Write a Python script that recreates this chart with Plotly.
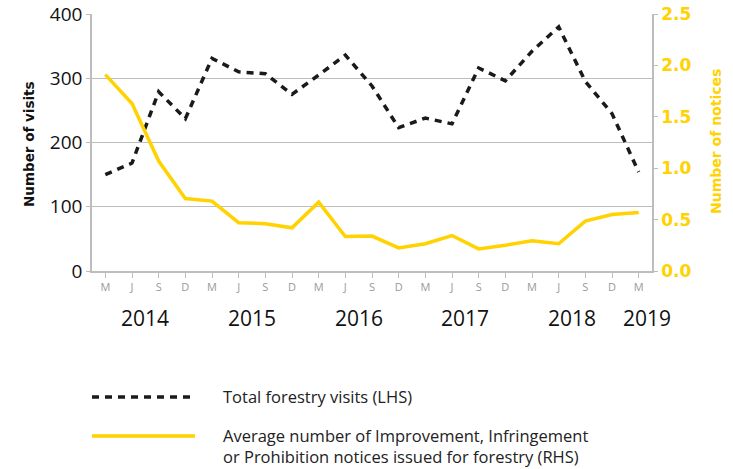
import plotly.graph_objects as go

months = ["M", "J", "S", "D"] * 5 + ["M"]
visits = [150, 168, 279, 237, 331, 310, 307, 275, 305, 336, 288, 223,
          238, 229, 316, 296, 342, 380, 295, 245, 154]
notices = [1.91, 1.63, 1.07, 0.705, 0.68, 0.47, 0.46, 0.42, 0.67, 0.335,
           0.34, 0.225, 0.265, 0.345, 0.215, 0.25, 0.295, 0.265, 0.485, 0.55, 0.57]
years = ["2014", "2015", "2016", "2017", "2018", "2019"]
year_pos = [1.5, 5.5, 9.5, 13.5, 17.5, 20.3]
right_ticks = [0, 0.5, 1.0, 1.5, 2.0, 2.5]

YELLOW = "#FFD200"
GRID = "#BDBDBD"
FONT = "Open Sans"
HEAVY = "DejaVu Sans"

PL, PR, PT, PB = 92, 652, 14, 271


def xp(px):
    return (px - PL) / float(PR - PL)


def yp(px):
    return 1 - (px - PT) / float(PB - PT)


x = list(range(len(months)))

fig = go.Figure()
fig.add_trace(go.Scatter(x=x, y=visits, mode="lines", yaxis="y",
                         line=dict(color="#1a1a1a", width=3.5, dash="7px,6px"),
                         showlegend=False, hoverinfo="skip"))
fig.add_trace(go.Scatter(x=x, y=notices, mode="lines", yaxis="y2",
                         line=dict(color=YELLOW, width=3.5),
                         showlegend=False, hoverinfo="skip"))

annotations = []
for yr, p in zip(years, year_pos):
    annotations.append(dict(x=p, y=yp(318), xref="x", yref="paper", yanchor="middle",
                            text=yr, showarrow=False,
                            font=dict(family=FONT, size=21, color="#111")))

fig.update_layout(
    width=733, height=469,
    margin=dict(l=PL, r=733 - PR, t=PT, b=469 - PB, autoexpand=False),
    paper_bgcolor="white", plot_bgcolor="white",
    font=dict(family=FONT),
    xaxis=dict(range=[-0.5, 20.5], tickvals=x, ticktext=months, automargin=False,
               showgrid=False, showline=True, linecolor=GRID, linewidth=1.5,
               ticks="outside", ticklen=5, tickcolor=GRID,
               tickfont=dict(size=11, color="#9a9a9a", family=FONT),
               zeroline=False),
    yaxis=dict(range=[0, 400], tickvals=[0, 100, 200, 300, 400], automargin=False,
               showgrid=True, gridcolor=GRID, gridwidth=1.2,
               showline=True, linecolor=GRID, linewidth=1.5,
               ticks="outside", ticklen=4, tickcolor=GRID,
               tickfont=dict(size=19, color="#111", family=FONT),
               zeroline=False),
    yaxis2=dict(range=[0, 2.5], tickvals=right_ticks,
                ticktext=["<b>%.1f</b>" % v for v in right_ticks], automargin=False,
                overlaying="y", side="right",
                showgrid=False, showline=True, linecolor=GRID, linewidth=1.5,
                ticks="outside", ticklen=4, tickcolor=GRID,
                tickfont=dict(size=17, color=YELLOW, family=HEAVY),
                zeroline=False),
    annotations=annotations,
)

# axis titles
fig.add_annotation(x=xp(29), y=yp(144), xref="paper", yref="paper",
                   xanchor="center", yanchor="middle",
                   text="<b>Number of visits</b>", textangle=-90, showarrow=False,
                   font=dict(size=13.5, color="#111", family=HEAVY))
fig.add_annotation(x=xp(716), y=yp(142), xref="paper", yref="paper",
                   xanchor="center", yanchor="middle",
                   text="<b>Number of notices</b>", textangle=-90, showarrow=False,
                   font=dict(size=14, color=YELLOW, family=HEAVY))

# legend
fig.add_shape(type="line", xref="paper", yref="paper", x0=xp(92), x1=xp(195),
              y0=yp(397), y1=yp(397),
              line=dict(color="#1a1a1a", width=3.5, dash="7px,6px"))
fig.add_shape(type="line", xref="paper", yref="paper", x0=xp(92), x1=xp(195),
              y0=yp(436), y1=yp(436),
              line=dict(color=YELLOW, width=3.5))
fig.add_annotation(x=xp(221), y=yp(396), xref="paper", yref="paper",
                   xanchor="left", yanchor="middle", showarrow=False,
                   text="Total forestry visits (LHS)", align="left",
                   font=dict(size=16.5, color="#222", family=FONT))
fig.add_annotation(x=xp(221), y=yp(446), xref="paper", yref="paper",
                   xanchor="left", yanchor="middle", showarrow=False, align="left",
                   text="Average number of Improvement, Infringement<br>or Prohibition notices issued for forestry (RHS)",
                   font=dict(size=16.5, color="#222", family=FONT))

fig.write_html("out.html", config={"displayModeBar": False},
               post_script="document.body.style.margin='0';document.body.style.overflow='hidden';")
